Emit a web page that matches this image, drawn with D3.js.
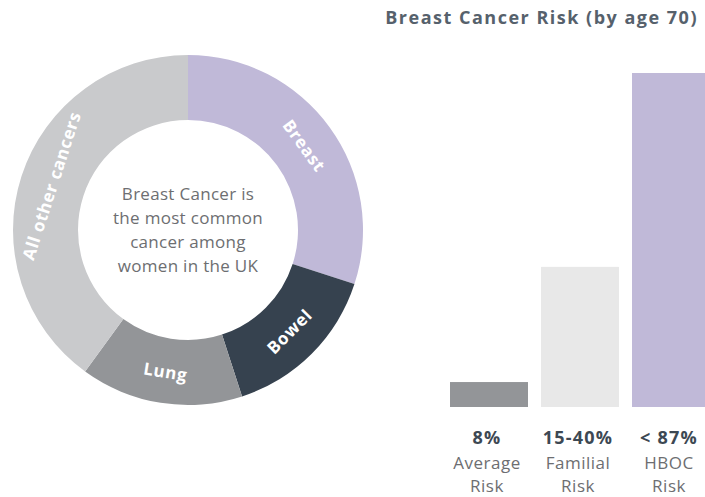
<!DOCTYPE html>
<html>
<head>
<meta charset="utf-8">
<script src="https://cdn.jsdelivr.net/npm/d3@7"></script>
<style>
  body { margin: 0; background: #fff; }
  svg { font-family: "Open Sans", Lato, sans-serif; }
</style>
</head>
<body>
<svg id="chart" width="705" height="497"></svg>
<script>
    //////////// DATA ////////////

    // share of cancers among women in the UK (donut)
    var cancerTypes = ["Breast", "Bowel", "Lung", "All other cancers"];
    var cancerShares = [30, 15, 15, 40];
    var cancerColors = ["#c0b9d8", "#36424f", "#939598", "#c9cacc"];
    var centerLines = ["Breast Cancer is", "the most common", "cancer among", "women in the UK"];

    // risk bars (heights as drawn, on a 0-87 scale)
    var riskGroups = ["Average", "Familial", "HBOC"];
    var riskHeights = [6.5, 36.5, 87];
    var riskLabels = ["8%", "15-40%", "< 87%"];
    var riskNames = [["Average", "Risk"], ["Familial", "Risk"], ["HBOC", "Risk"]];
    var riskColors = ["#939598", "#e8e8e8", "#c0b9d8"];

    var svg = d3.select("#chart");

    //////////// DONUT ////////////

    var cx = 188, cy = 230;
    var outerR = 175, innerR = 110;

    var pie = d3.pie().sort(null).value(function (d) { return d; });
    var arc = d3.arc().innerRadius(innerR).outerRadius(outerR);
    var labelArc = d3.arc().innerRadius(innerR).outerRadius(outerR + 2);

    var donut = svg.append("g")
        .attr("transform", "translate(" + cx + "," + cy + ")");

    var slices = pie(cancerShares);

    donut.selectAll("path")
        .data(slices)
        .enter().append("path")
        .attr("d", arc)
        .attr("fill", function (d, i) { return cancerColors[i]; });

    // labels rotated along the ring
    donut.selectAll("text.slice")
        .data(slices)
        .enter().append("text")
        .attr("class", "slice")
        .attr("transform", function (d) {
            var c = labelArc.centroid(d);
            var a = (d.startAngle + d.endAngle) / 2 * 180 / Math.PI;
            var rot;
            if (a < 90) rot = a;
            else if (a > 270) rot = a - 360;
            else rot = a - 180;
            return "translate(" + c[0] + "," + c[1] + ") rotate(" + rot + ")";
        })
        .attr("text-anchor", "middle")
        .attr("dy", "0.36em")
        .attr("fill", "#fff")
        .attr("font-weight", 700)
        .attr("font-size", 17)
        .attr("letter-spacing", 0.7)
        .text(function (d, i) { return cancerTypes[i]; });

    donut.append("text")
        .attr("text-anchor", "middle")
        .attr("fill", "#6d6e71")
        .attr("font-size", 17)
        .attr("letter-spacing", 0.3)
        .selectAll("tspan")
        .data(centerLines)
        .enter().append("tspan")
        .attr("x", 0)
        .attr("y", function (d, i) { return (i - 1.5) * 24; })
        .attr("dy", "0.35em")
        .text(function (d) { return d; });

    //////////// BARS ////////////

    var x = d3.scaleBand()
        .domain(riskGroups)
        .range([450, 710])
        .paddingInner(0.143)
        .paddingOuter(0);

    var y = d3.scaleLinear()
        .domain([0, 87])
        .range([407, 73]);

    svg.append("text")
        .attr("x", 698)
        .attr("y", 18)
        .attr("dy", "0.35em")
        .attr("text-anchor", "end")
        .attr("fill", "#56616c")
        .attr("font-weight", 700)
        .attr("font-size", 18)
        .attr("letter-spacing", 1.5)
        .text("Breast Cancer Risk (by age 70)");

    svg.append("g")
        .selectAll("rect")
        .data(riskHeights)
        .enter().append("rect")
        .attr("x", function (d, i) { return x(riskGroups[i]); })
        .attr("width", x.bandwidth())
        .attr("y", function (d) { return y(d); })
        .attr("height", function (d) { return y(0) - y(d); })
        .attr("fill", function (d, i) { return riskColors[i]; });

    var labels = svg.append("g")
        .selectAll("g")
        .data(riskGroups)
        .enter().append("g")
        .attr("transform", function (d) {
            return "translate(" + (x(d) + x.bandwidth() / 2 - 2) + ",0)";
        });

    labels.append("text")
        .attr("y", 438)
        .attr("dy", "0.35em")
        .attr("text-anchor", "middle")
        .attr("fill", "#3d4853")
        .attr("font-weight", 700)
        .attr("font-size", 18)
        .attr("letter-spacing", 1.2)
        .text(function (d, i) { return riskLabels[i]; });

    labels.append("text")
        .attr("text-anchor", "middle")
        .attr("fill", "#6d6e71")
        .attr("font-size", 17)
        .attr("letter-spacing", 0.5)
        .selectAll("tspan")
        .data(function (d, i) { return riskNames[i]; })
        .enter().append("tspan")
        .attr("x", 0)
        .attr("y", function (d, i) { return 463 + i * 23; })
        .attr("dy", "0.35em")
        .text(function (d) { return d; });
</script>
</body>
</html>
